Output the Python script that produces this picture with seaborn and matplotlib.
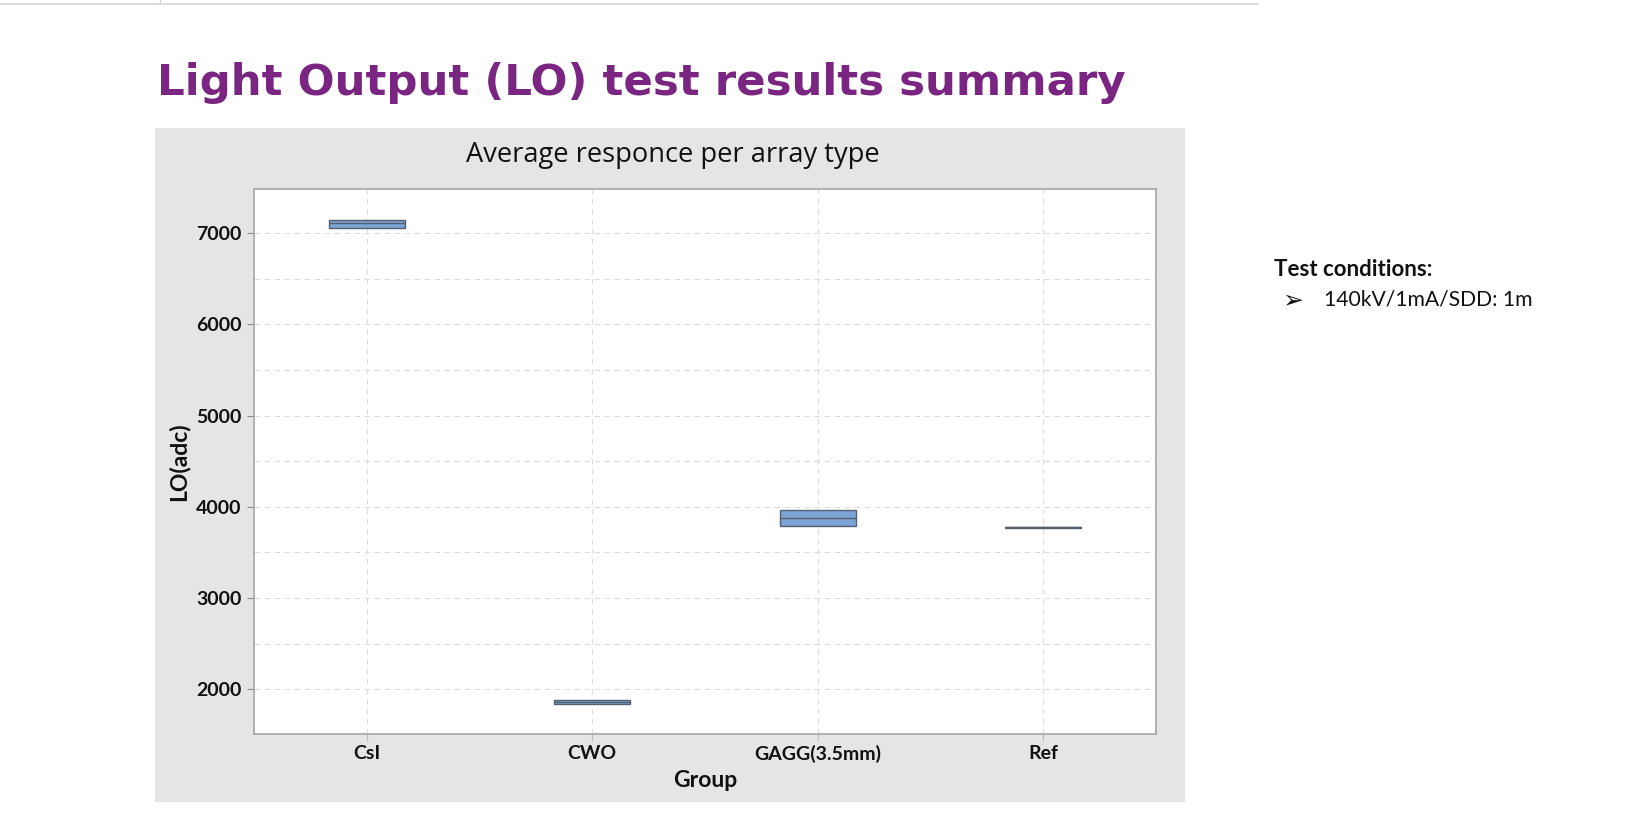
import pandas as pd
import numpy as np
import matplotlib
matplotlib.use("Agg")
import matplotlib.pyplot as plt
import seaborn as sns
from matplotlib.patches import Rectangle
from matplotlib.lines import Line2D
from matplotlib.ticker import MultipleLocator

# ---------- data ----------
groups = ['CsI', 'CWO', 'GAGG(3.5mm)', 'Ref']
# box stats per group: min/Q1, Q1, median, Q3, Q3/max  -> no whiskers visible
csi_lo = [7055, 7055, 7105, 7146, 7146]
cwo_lo = [1836, 1836, 1857, 1879, 1879]
gagg_lo = [3791, 3791, 3875, 3966, 3966]
ref_lo = [3767, 3767, 3773, 3779, 3779]

y_ticks = [2000, 3000, 4000, 5000, 6000, 7000]

rows = []
for g, vals in zip(groups, [csi_lo, cwo_lo, gagg_lo, ref_lo]):
    for v in vals:
        rows.append({'Group': g, 'LO(adc)': v})
df = pd.DataFrame(rows)

# ---------- figure ----------
sns.set_style("white")
W, H = 1635, 825
fig = plt.figure(figsize=(W / 100, H / 100), dpi=100)
fig.patch.set_facecolor('white')

# grey panel behind the chart
fig.patches.append(Rectangle((155 / W, 1 - 802 / H), 1030 / W, 674 / H,
                             transform=fig.transFigure, facecolor='#e5e5e5',
                             edgecolor='none', zorder=-10))
# thin line at the very top (slide edge)
fig.add_artist(Line2D([0, 1258 / W], [1 - 4 / H] * 2, color='#d6d6d6', lw=1.2))
fig.add_artist(Line2D([160 / W] * 2, [1, 1 - 4 / H], color='#d6d6d6', lw=1))

ax = fig.add_axes([254 / W, 1 - 734 / H, 902 / W, 545 / H])
ax.set_facecolor('white')

edge = '#56606e'
sns.boxplot(data=df, x='Group', y='LO(adc)', order=groups, ax=ax,
            width=0.335, whis=(0, 100), showcaps=False, fliersize=0,
            color='#7ba3d6', saturation=1, linewidth=1.0, linecolor=edge,
            boxprops=dict(zorder=3), medianprops=dict(color=edge, lw=1.0, zorder=4))

ax.set_xlim(-0.5, 3.5)
ax.set_ylim(1510, 7482)
ax.set_yticks(y_ticks)
ax.yaxis.set_minor_locator(MultipleLocator(500))
ax.grid(which='both', axis='y', linestyle=(0, (5, 4)), color='#dddddd', lw=0.8, zorder=0)
ax.grid(which='major', axis='x', linestyle=(0, (5, 4)), color='#dddddd', lw=0.8, zorder=0)
ax.set_axisbelow(True)
for s in ax.spines.values():
    s.set_color('#a6a6a6')
    s.set_linewidth(1.2)

ax.tick_params(axis='y', which='major', length=5, color='#888888', pad=4,
               labelsize=14, left=True)
ax.tick_params(axis='y', which='minor', length=0)
ax.tick_params(axis='x', length=5, color='#bbbbbb', labelsize=14, pad=3, bottom=True)
for lab in ax.get_xticklabels() + ax.get_yticklabels():
    lab.set_family('Lato')
    lab.set_fontweight('bold')
    lab.set_color('#111111')

ax.set_xlabel('Group', fontsize=16.5, family='Lato', fontweight='bold',
              color='#111111', labelpad=5)
ax.set_ylabel('LO(adc)', fontsize=16.5, family='Lato', fontweight='bold',
              color='#111111', labelpad=5)

# chart title inside grey panel
fig.text(673 / W, 1 - 155 / H, 'Average responce per array type', ha='center',
         va='center', fontsize=19.6, family='Open Sans', fontweight='medium',
         color='#111111')

# slide title
fig.text(157 / W, 1 - 95 / H, 'Light Output (LO) test results summary',
         ha='left', va='baseline', fontsize=31.3, fontweight='bold',
         family='DejaVu Sans', color='#7a2581')

# test conditions
fig.text(1274 / W, 1 - 270 / H, 'Test conditions:', ha='left', va='center',
         fontsize=16, fontweight='bold', family='Lato', color='#111111')
fig.text(1282 / W, 1 - 300 / H, '\u27a2', ha='left', va='center',
         fontsize=18, fontweight='bold', family='DejaVu Sans', color='#111111')
fig.text(1324 / W, 1 - 300 / H, '140kV/1mA/SDD: 1m', ha='left', va='center',
         fontsize=15.2, family='Lato', color='#111111')

fig.savefig('out.png', dpi=100)
